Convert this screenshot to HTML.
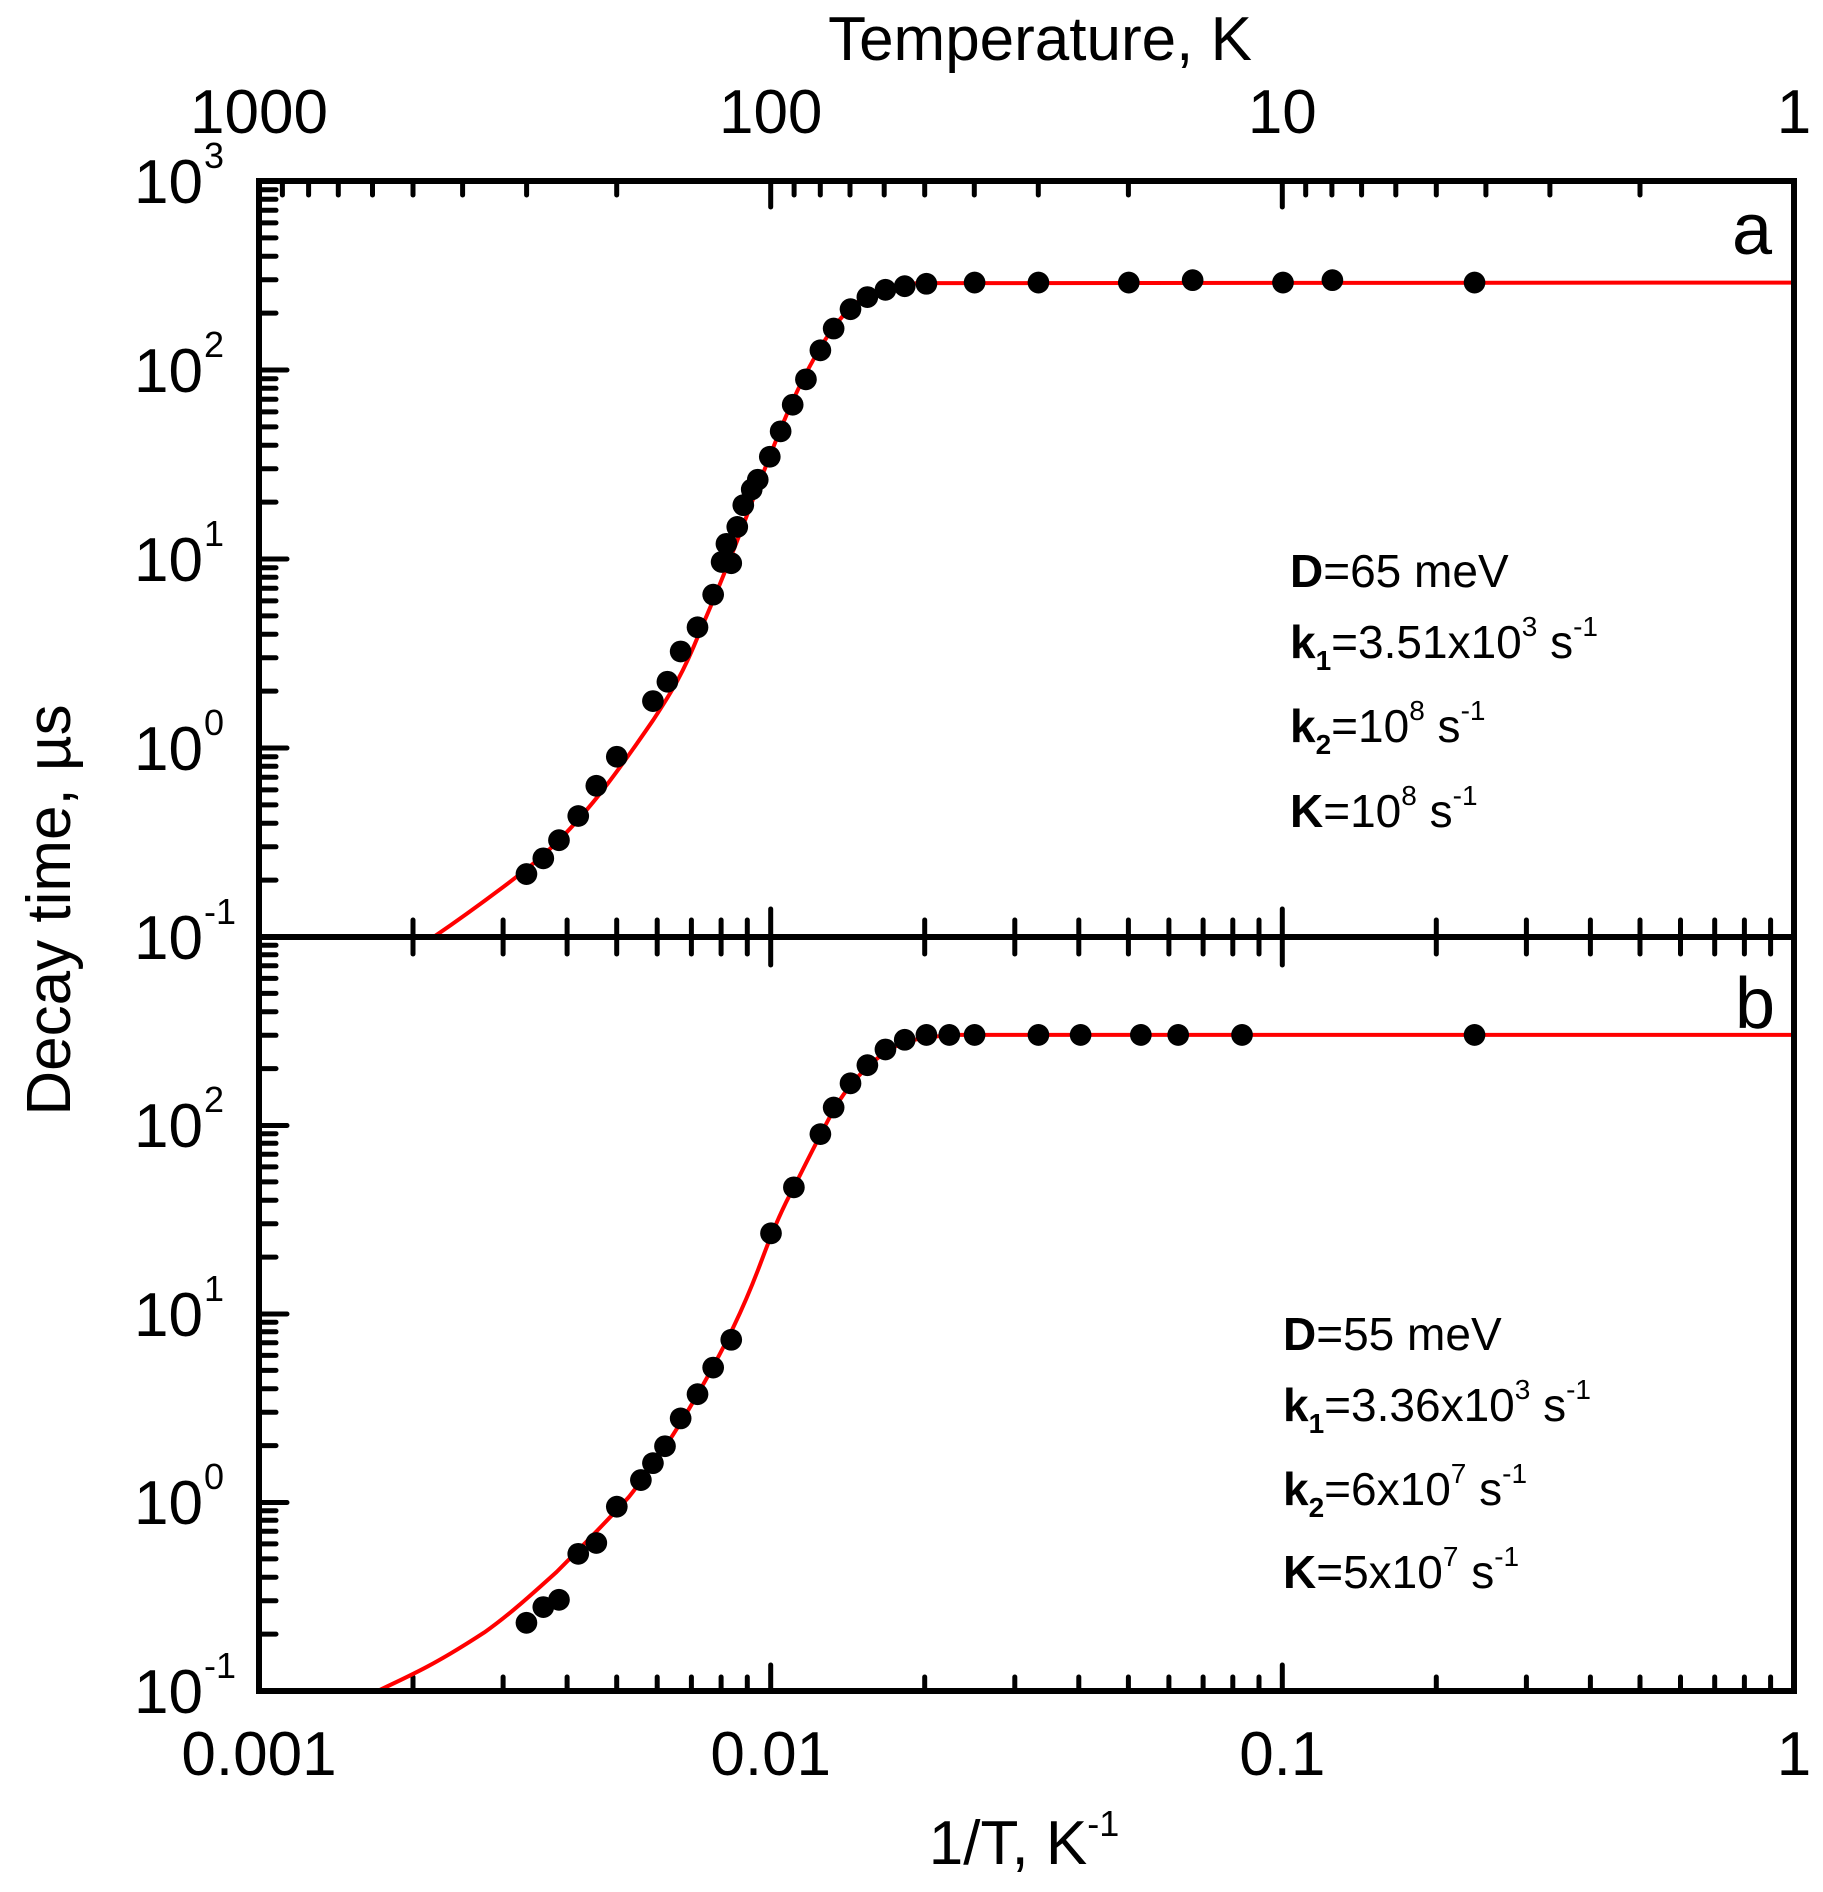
<!DOCTYPE html>
<html><head><meta charset="utf-8"><style>
html,body{margin:0;padding:0;background:#fff}
svg{display:block}
text{font-family:"Liberation Sans",Arial,sans-serif;fill:#000}
</style></head><body>
<svg width="1823" height="1892" viewBox="0 0 1823 1892" xmlns="http://www.w3.org/2000/svg">
<defs>
<g id="xbot" stroke="#000" stroke-width="5" stroke-linecap="round">
<line x1="154" y1="0" x2="154" y2="-14"/><line x1="244.1" y1="0" x2="244.1" y2="-14"/><line x1="308.1" y1="0" x2="308.1" y2="-14"/><line x1="357.7" y1="0" x2="357.7" y2="-14"/><line x1="398.2" y1="0" x2="398.2" y2="-14"/><line x1="432.4" y1="0" x2="432.4" y2="-14"/><line x1="462.1" y1="0" x2="462.1" y2="-14"/><line x1="488.3" y1="0" x2="488.3" y2="-14"/>
</g>
<g id="xmid" stroke="#000" stroke-width="5" stroke-linecap="round">
<line x1="154" y1="-17" x2="154" y2="17"/><line x1="244.1" y1="-17" x2="244.1" y2="17"/><line x1="308.1" y1="-17" x2="308.1" y2="17"/><line x1="357.7" y1="-17" x2="357.7" y2="17"/><line x1="398.2" y1="-17" x2="398.2" y2="17"/><line x1="432.4" y1="-17" x2="432.4" y2="17"/><line x1="462.1" y1="-17" x2="462.1" y2="17"/><line x1="488.3" y1="-17" x2="488.3" y2="17"/>
</g>
<g id="xtop" stroke="#000" stroke-width="5" stroke-linecap="round">
<line x1="23.4" y1="0" x2="23.4" y2="14"/><line x1="49.6" y1="0" x2="49.6" y2="14"/><line x1="79.3" y1="0" x2="79.3" y2="14"/><line x1="113.5" y1="0" x2="113.5" y2="14"/><line x1="154" y1="0" x2="154" y2="14"/><line x1="203.6" y1="0" x2="203.6" y2="14"/><line x1="267.6" y1="0" x2="267.6" y2="14"/><line x1="357.7" y1="0" x2="357.7" y2="14"/>
</g>
<g id="yd" stroke="#000" stroke-width="5" stroke-linecap="round">
<line x1="0" y1="-56.9" x2="17" y2="-56.9"/><line x1="0" y1="-90.2" x2="17" y2="-90.2"/><line x1="0" y1="-113.8" x2="17" y2="-113.8"/><line x1="0" y1="-132.1" x2="17" y2="-132.1"/><line x1="0" y1="-147.1" x2="17" y2="-147.1"/><line x1="0" y1="-159.7" x2="17" y2="-159.7"/><line x1="0" y1="-170.7" x2="17" y2="-170.7"/><line x1="0" y1="-180.3" x2="17" y2="-180.3"/>
</g>
</defs>

<use href="#xbot" x="259" y="1691"/><use href="#xbot" x="770.7" y="1691"/><use href="#xbot" x="1282.3" y="1691"/>
<use href="#xmid" x="259" y="937"/><use href="#xmid" x="770.7" y="937"/><use href="#xmid" x="1282.3" y="937"/>
<use href="#xtop" x="259" y="181"/><use href="#xtop" x="770.7" y="181"/><use href="#xtop" x="1282.3" y="181"/>
<use href="#yd" x="259" y="370"/><use href="#yd" x="259" y="559"/><use href="#yd" x="259" y="748"/><use href="#yd" x="259" y="937"/>
<use href="#yd" x="259" y="1125.5"/><use href="#yd" x="259" y="1314"/><use href="#yd" x="259" y="1502.5"/><use href="#yd" x="259" y="1691"/>
<g stroke="#000" stroke-width="5" stroke-linecap="round">
<line x1="770.7" y1="1691" x2="770.7" y2="1665"/><line x1="1282.3" y1="1691" x2="1282.3" y2="1665"/>
<line x1="770.7" y1="909" x2="770.7" y2="965"/><line x1="1282.3" y1="909" x2="1282.3" y2="965"/>
<line x1="770.7" y1="181" x2="770.7" y2="207"/><line x1="1282.3" y1="181" x2="1282.3" y2="207"/>
<line x1="259" y1="370" x2="287" y2="370"/><line x1="259" y1="559" x2="287" y2="559"/><line x1="259" y1="748" x2="287" y2="748"/>
<line x1="259" y1="1125.5" x2="287" y2="1125.5"/><line x1="259" y1="1314" x2="287" y2="1314"/><line x1="259" y1="1502.5" x2="287" y2="1502.5"/>
</g>

<g transform="translate(2.4,-2.9) scale(1.2047,1.2096)">
<path fill="none" stroke="#f00" stroke-width="4" vector-effect="non-scaling-stroke" d="M358,777 C380,762 400,748 435,721 C455,705 470,690 490,666 C505,648 520,627 540,598 C555,575 565,560 580,522 C595,488 610,450 625,410 C640,372 650,345 665,315 C678,290 690,270 705,256 C718,245 730,239 760,236.5 L1487,236"/>
<path fill="none" stroke="#f00" stroke-width="4" vector-effect="non-scaling-stroke" d="M310,1401 C340,1387 360,1378 400,1352 C420,1338 440,1320 460,1302 C480,1282 500,1262 520,1240 C540,1215 560,1185 580,1150 C600,1115 615,1085 630,1045 C640,1018 648,1000 657,984 C668,962 679,940 690,920 C700,903 712,888 733,872 C748,863 760,860 790,858 L1487,858"/>
<g fill="#000">
<circle cx="435" cy="725" r="9"/><circle cx="449" cy="712" r="9"/><circle cx="462" cy="697" r="9"/><circle cx="478" cy="677" r="9"/><circle cx="493" cy="652" r="9"/><circle cx="510" cy="628" r="9"/><circle cx="540" cy="582" r="9"/><circle cx="552" cy="566" r="9"/><circle cx="563" cy="541" r="9"/><circle cx="577" cy="521" r="9"/><circle cx="590" cy="494" r="9"/><circle cx="597" cy="467" r="9"/><circle cx="601" cy="452" r="9"/><circle cx="605" cy="468" r="9"/><circle cx="610" cy="438" r="9"/><circle cx="615" cy="420" r="9"/><circle cx="622" cy="407" r="9"/><circle cx="627" cy="399" r="9"/><circle cx="637" cy="380" r="9"/><circle cx="646" cy="359" r="9"/><circle cx="656" cy="337" r="9"/><circle cx="667" cy="316" r="9"/><circle cx="679" cy="292" r="9"/><circle cx="690" cy="274" r="9"/><circle cx="704" cy="258" r="9"/><circle cx="718" cy="248" r="9"/><circle cx="733" cy="242" r="9"/><circle cx="749" cy="239" r="9"/><circle cx="767" cy="237" r="9"/><circle cx="807" cy="236" r="9"/><circle cx="860" cy="236" r="9"/><circle cx="935" cy="236" r="9"/><circle cx="988" cy="234" r="9"/><circle cx="1063" cy="236" r="9"/><circle cx="1104" cy="234" r="9"/><circle cx="1222" cy="236" r="9"/>
<circle cx="435" cy="1344" r="9"/><circle cx="449" cy="1331" r="9"/><circle cx="462" cy="1325" r="9"/><circle cx="478" cy="1287" r="9"/><circle cx="493" cy="1278" r="9"/><circle cx="510" cy="1248" r="9"/><circle cx="530" cy="1226" r="9"/><circle cx="540" cy="1212" r="9"/><circle cx="550" cy="1198" r="9"/><circle cx="563" cy="1175" r="9"/><circle cx="577" cy="1155" r="9"/><circle cx="590" cy="1133" r="9"/><circle cx="605" cy="1110" r="9"/><circle cx="638" cy="1022" r="9"/><circle cx="657" cy="984" r="9"/><circle cx="679" cy="940" r="9"/><circle cx="690" cy="918" r="9"/><circle cx="704" cy="898" r="9"/><circle cx="718" cy="883" r="9"/><circle cx="733" cy="870" r="9"/><circle cx="749" cy="862" r="9"/><circle cx="767" cy="858" r="9"/><circle cx="786" cy="858" r="9"/><circle cx="807" cy="858" r="9"/><circle cx="860" cy="858" r="9"/><circle cx="895" cy="858" r="9"/><circle cx="945" cy="858" r="9"/><circle cx="976" cy="858" r="9"/><circle cx="1029" cy="858" r="9"/><circle cx="1222" cy="858" r="9"/>
</g>
</g>

<rect x="259" y="181" width="1535" height="1510" fill="none" stroke="#000" stroke-width="6"/>
<line x1="259" y1="937" x2="1794" y2="937" stroke="#000" stroke-width="6"/>

<g font-size="62" text-anchor="middle">
<text x="259" y="1775">0.001</text><text x="770.7" y="1775">0.01</text><text x="1282.3" y="1775">0.1</text><text x="1794" y="1775">1</text>
<text x="259" y="133">1000</text><text x="770.7" y="133">100</text><text x="1282.3" y="133">10</text><text x="1794" y="133">1</text>
<text x="1040" y="60">Temperature, K</text>
<text x="1024" y="1864">1/T, K<tspan font-size="36" dy="-28">-1</tspan></text>
</g>
<text font-size="62" text-anchor="middle" transform="translate(70,910) rotate(-90)">Decay time, µs</text>

<g font-size="62" text-anchor="end">
<text x="203" y="203">10</text><text x="203" y="392">10</text><text x="203" y="581">10</text><text x="203" y="770">10</text><text x="203" y="959">10</text>
<text x="203" y="1147">10</text><text x="203" y="1336">10</text><text x="203" y="1524">10</text><text x="203" y="1713">10</text>
</g>
<g font-size="36">
<text x="204" y="168">3</text><text x="204" y="357">2</text><text x="204" y="546">1</text><text x="204" y="735">0</text><text x="204" y="924">-1</text>
<text x="204" y="1112">2</text><text x="204" y="1301">1</text><text x="204" y="1489">0</text><text x="204" y="1678">-1</text>
</g>

<text x="1752" y="254" font-size="72" text-anchor="middle">a</text>
<text x="1755" y="1028" font-size="72" text-anchor="middle">b</text>

<g font-size="46">
<text x="1290" y="587"><tspan font-weight="bold">D</tspan>=65 meV</text>
<text x="1290" y="658"><tspan font-weight="bold">k</tspan><tspan font-size="28" font-weight="bold" dy="12">1</tspan><tspan dy="-12">=3.51x10</tspan><tspan font-size="28" dy="-22">3</tspan><tspan dy="22"> s</tspan><tspan font-size="28" dy="-22">-1</tspan></text>
<text x="1290" y="742"><tspan font-weight="bold">k</tspan><tspan font-size="28" font-weight="bold" dy="12">2</tspan><tspan dy="-12">=10</tspan><tspan font-size="28" dy="-22">8</tspan><tspan dy="22"> s</tspan><tspan font-size="28" dy="-22">-1</tspan></text>
<text x="1290" y="827"><tspan font-weight="bold">K</tspan>=10<tspan font-size="28" dy="-22">8</tspan><tspan dy="22"> s</tspan><tspan font-size="28" dy="-22">-1</tspan></text>

<text x="1283" y="1350"><tspan font-weight="bold">D</tspan>=55 meV</text>
<text x="1283" y="1421"><tspan font-weight="bold">k</tspan><tspan font-size="28" font-weight="bold" dy="12">1</tspan><tspan dy="-12">=3.36x10</tspan><tspan font-size="28" dy="-22">3</tspan><tspan dy="22"> s</tspan><tspan font-size="28" dy="-22">-1</tspan></text>
<text x="1283" y="1505"><tspan font-weight="bold">k</tspan><tspan font-size="28" font-weight="bold" dy="12">2</tspan><tspan dy="-12">=6x10</tspan><tspan font-size="28" dy="-22">7</tspan><tspan dy="22"> s</tspan><tspan font-size="28" dy="-22">-1</tspan></text>
<text x="1283" y="1588"><tspan font-weight="bold">K</tspan>=5x10<tspan font-size="28" dy="-22">7</tspan><tspan dy="22"> s</tspan><tspan font-size="28" dy="-22">-1</tspan></text>
</g>
</svg>
</body></html>
